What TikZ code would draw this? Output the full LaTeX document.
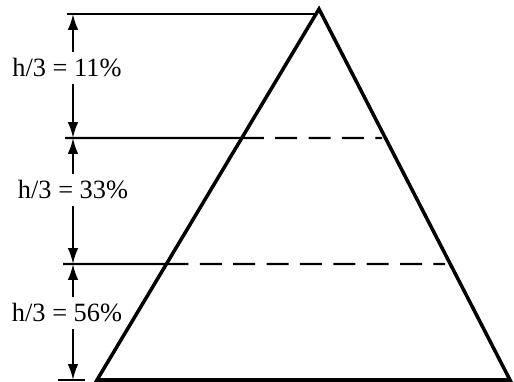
\documentclass[tikz,border=0pt]{standalone}
\usepackage{fontspec}
\setmainfont{Liberation Serif}
\usetikzlibrary{arrows.meta,calc}

\tikzset{
  edge/.style={line width=2pt, line join=miter},
  level/.style={line width=1.2pt},
  cut/.style={level, dash pattern=on 12.5pt off 6.5pt},
  dim/.style={line width=1.2pt, -{Latex[length=9pt,width=6pt]}},
  pct/.style={font=\fontsize{15}{18}\selectfont, inner sep=3.5pt}
}

\begin{document}
\begin{tikzpicture}[x=0.02cm, y=-0.02cm]
  \useasboundingbox (0,0) rectangle (514,382);

  % Triangle
  \coordinate (apex) at (319,9);
  \coordinate (bl) at (97,380);
  \coordinate (br) at (510,380);
  \draw[edge] (bl) -- (apex) -- (br) -- cycle;

  % Dimension points
  \coordinate (d0) at (73,14);
  \coordinate (d1) at (73,138);
  \coordinate (d2) at (73,264);
  \coordinate (d3) at (73,380);

  % Cut points on the left side
  \coordinate (c1) at ($(apex)!0.3477!(bl)$);
  \coordinate (c2) at ($(apex)!0.6873!(bl)$);

  % Level lines
  \draw[level] (67,14) -- (316,14);
  \draw[level] (65,138) -- (c1);
  \draw[cut] (c1) -- (382,138);
  \draw[level] (63,264) -- (c2);
  \draw[cut] (c2) -- (445,264);
  \draw[level] (58,380) -- (85,380);

  % Labels
  \node[pct] (l1) at (67,68) {h/3 = 11\%};
  \node[pct] (l2) at (73,190) {h/3 = 33\%};
  \node[pct] (l3) at (67,313) {h/3 = 56\%};

  % Dimension arrows
  \draw[dim] (l1.north -| d0) -- (d0);
  \draw[dim] (l1.south -| d0) -- (d1);
  \draw[dim] (l2.north -| d1) -- (d1);
  \draw[dim] (l2.south -| d1) -- (d2);
  \draw[dim] (l3.north -| d2) -- (d2);
  \draw[dim] (l3.south -| d2) -- (d3);
\end{tikzpicture}
\end{document}
